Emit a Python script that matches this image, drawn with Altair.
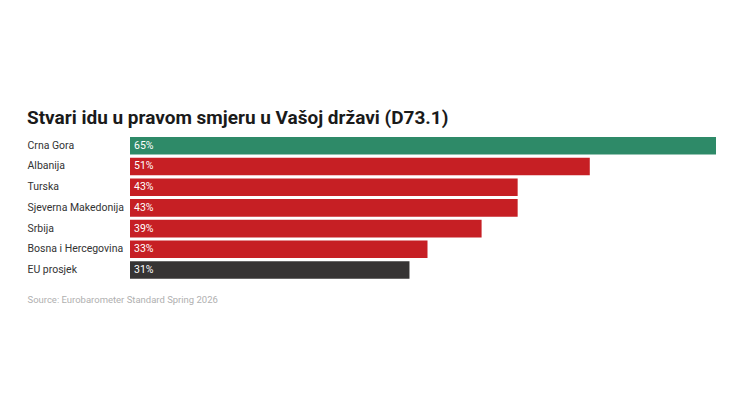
import altair as alt
import pandas as pd

countries = ["Crna Gora", "Albanija", "Turska", "Sjeverna Makedonija", "Srbija", "Bosna i Hercegovina", "EU prosjek"]
values = [65, 51, 43, 43, 39, 33, 31]
colors = ["#2e8a68", "#c61f24", "#c61f24", "#c61f24", "#c61f24", "#c61f24", "#363434"]

df = pd.DataFrame({"country": countries, "value": values, "color": colors})
df["label"] = df["value"].astype(str) + "%"

y = alt.Y("country:N", sort=countries,
          scale=alt.Scale(paddingInner=0.15, paddingOuter=0),
          axis=alt.Axis(title=None, ticks=False, domain=False, labelAlign="left",
                        labelPadding=103, labelFont="Roboto", labelFontSize=10.5,
                        labelColor="#333333"))
x = alt.X("value:Q", scale=alt.Scale(domain=[0, 65], nice=False, zero=True),
          axis=alt.Axis(title="Source: Eurobarometer Standard Spring 2026", labels=False,
                        ticks=False, domain=False, grid=False, titleAnchor="start",
                        titleX=-103, titleY=21, titleBaseline="middle", titleFont="Roboto",
                        titleFontSize=9.5, titleFontWeight="normal", titleColor="#b0b0b0"))

bars = alt.Chart(df).mark_bar().encode(x=x, y=y, color=alt.Color("color:N", scale=None))
text = alt.Chart(df).mark_text(align="left", baseline="middle", dx=4, font="Roboto",
                               fontSize=10.5, color="white").encode(
    x=alt.datum(0), y=alt.Y("country:N", sort=countries), text="label:N")

chart = alt.layer(bars, text).properties(
    width=586, height=141.8,
    title=alt.TitleParams("Stvari idu u pravom smjeru u Vašoj državi (D73.1)", anchor="start",
                          offset=9, font="Roboto", fontSize=19, fontWeight="bold",
                          color="#1a1a1a"),
    autosize=alt.AutoSizeParams(type="none"),
    padding={"left": 122, "top": 129, "right": 10, "bottom": 60},
).configure(background="white", view={"stroke": None})

chart.save("out.html", embed_options={"renderer": "svg", "actions": False})
